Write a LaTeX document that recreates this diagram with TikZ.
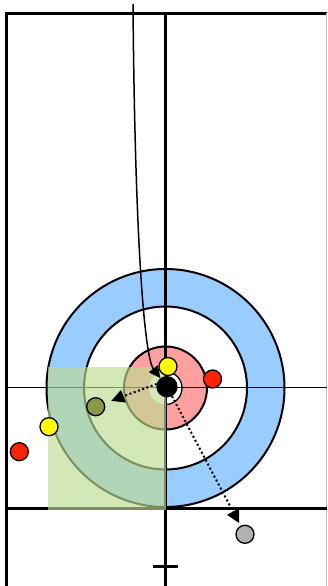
\documentclass[tikz,border=0pt]{standalone}
\usetikzlibrary{arrows.meta}
\definecolor{ringblue}{RGB}{153,204,255}
\definecolor{ringred}{RGB}{255,160,160}
\definecolor{overgreen}{RGB}{189,220,145}
\definecolor{stoneyellow}{RGB}{255,255,0}
\definecolor{stonered}{RGB}{255,34,0}
\definecolor{stoneolive}{RGB}{136,153,68}
\definecolor{stonegray}{RGB}{178,178,178}
\begin{document}
\begin{tikzpicture}[x=1pt,y=-1pt,
  stone/.style={circle,draw=black,line width=1.3pt,minimum size=18pt,inner sep=0pt},
  ringline/.style={draw=black,line width=2pt},
  heavyline/.style={line width=3pt},
  dotarrow/.style={line width=2pt,dash pattern=on 2pt off 2.5pt,-{Triangle[length=13pt,width=13pt]}},
  pathline/.style={line width=1.5pt,-{Triangle[length=12pt,width=11pt]}},
]
\useasboundingbox (0,0) rectangle (327,586);
% house
\coordinate (tee) at (165.5,388);
\fill[ringblue] (tee) circle (119pt);
\fill[white] (tee) circle (81.5pt);
\fill[ringred] (tee) circle (41.5pt);
\fill[white] (tee) circle (16.5pt);
\draw[ringline] (tee) circle (119pt);
\draw[ringline] (tee) circle (81.5pt);
\draw[ringline] (tee) circle (41.5pt);
\draw[line width=1.3pt] (165.5,371.5) arc[start angle=90,end angle=-90,radius=16.5pt];
% sheet lines
\draw[heavyline] (5,13.5) -- (327,13.5);
\draw[heavyline] (6.7,12) -- (6.7,586);
\draw[line width=0.8pt,gray!50] (326.5,13.5) -- (326.5,586);
\draw[line width=2.5pt] (165.5,13.5) -- (165.5,586);
\draw[line width=1pt] (6.7,387) -- (327,387);
\draw[heavyline] (6.7,508.5) -- (327,508.5);
\draw[heavyline] (153,566) -- (178,566);
% overlay
\fill[overgreen,opacity=0.65] (47.5,367) rectangle (165.5,510);
% stones
\node[stone,fill=black,minimum size=20pt] (blk) at (167,386.7) {};
\node[stone,fill=stoneyellow] (y1) at (168,366.5) {};
\node[stone,fill=stonered] (r1) at (212.5,379) {};
\node[stone,fill=stoneolive] (ol) at (95.7,406.7) {};
\node[stone,fill=stoneyellow] (y2) at (49,426.7) {};
\node[stone,fill=stonered] (r2) at (19.3,451.7) {};
\node[stone,fill=stonegray] (gr) at (245,534.3) {};
% paths
\coordinate (start) at (133,4);
\draw[pathline] (start) .. controls (135,250) and (145,358) .. (blk);
\draw[dotarrow,shorten >=7pt] (blk.165) .. controls (140,390) .. (ol);
\draw[dotarrow,shorten >=3pt] (blk) -- (gr);
\end{tikzpicture}
\end{document}
